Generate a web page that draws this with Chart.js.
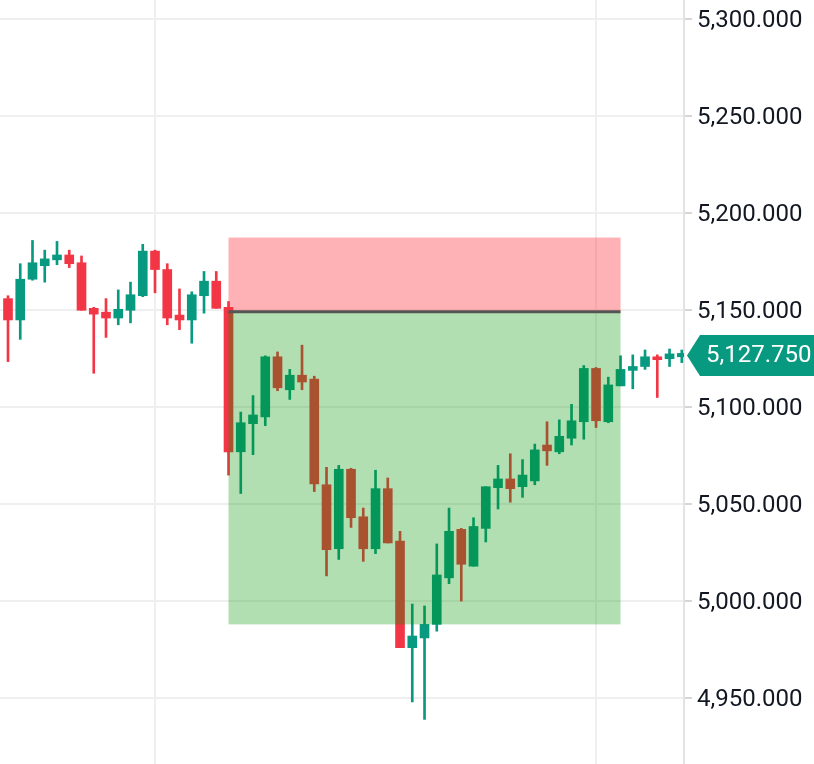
<!DOCTYPE html>
<html>
<head>
<meta charset="utf-8">
<script src="https://cdn.jsdelivr.net/npm/chart.js@4"></script>
<style>
  html, body { margin: 0; padding: 0; background: #ffffff; overflow: hidden; }
  canvas { display: block; }
</style>
</head>
<body>
<canvas id="chart" width="814" height="764"></canvas>
<script>
// OHLC, one entry per candle (left to right)
const opens = [5156, 5145, 5166, 5173, 5176, 5178.5, 5174.5, 5151, 5149, 5146, 5150, 5157.5, 5180.5, 5171, 5147.5, 5145, 5157.5, 5165,
  5151.5, 5077, 5091.5, 5095, 5126, 5109, 5116.5, 5114.5, 5060, 5027, 5068, 5043.5, 5027, 5058, 5031, 4976, 4981, 4988, 5012, 5037,
  5018, 5037.5, 5058.5, 5063, 5059, 5062, 5080.5, 5077, 5084, 5092.5, 5120, 5092.5, 5111, 5119, 5121, 5126, 5125, 5126];
const highs = [5157.5, 5174, 5186, 5181, 5185.5, 5181, 5178, 5151.5, 5156, 5160.5, 5164.5, 5184, 5181, 5174, 5161, 5159.5, 5170, 5170,
  5154.5, 5097.5, 5106, 5126.5, 5128.5, 5119.5, 5132, 5116, 5069, 5070, 5068.5, 5048, 5067.5, 5063.5, 5036, 4998.5, 4997.5, 5029.5, 5048, 5037.5,
  5043, 5059, 5070, 5076, 5073, 5081, 5092.5, 5093.5, 5101.5, 5121.5, 5120.5, 5115.5, 5126.5, 5127, 5129.5, 5127, 5130, 5129.5];
const lows = [5123.5, 5135, 5165.5, 5164.5, 5173.5, 5172, 5150, 5117.5, 5136, 5142.5, 5143.5, 5157, 5159, 5142.5, 5140, 5133, 5148.5, 5151,
  5065, 5055.5, 5075.5, 5090.5, 5108.5, 5104, 5109, 5056.5, 5013, 5021.5, 5038, 5020.5, 5024.5, 5030, 4976, 4948, 4939, 4984.5, 5009, 5000,
  5018, 5030.5, 5047.5, 5051, 5053.5, 5060, 5070, 5076, 5080.5, 5083.5, 5089.5, 5092, 5111, 5109.5, 5119.5, 5105, 5121, 5123];
const closes = [5145, 5166, 5174.5, 5176.5, 5178.5, 5174, 5150, 5148, 5146, 5150.5, 5158, 5180.5, 5171, 5146, 5145, 5158, 5165, 5151,
  5077, 5092, 5096, 5126, 5110, 5116.5, 5113, 5060.5, 5026.5, 5068, 5043, 5027, 5058, 5030, 4976, 4982, 4988, 5013.5, 5036, 5019,
  5038.5, 5059, 5063, 5058, 5065, 5078, 5077.5, 5085, 5093, 5120, 5093, 5111.5, 5119.5, 5121, 5126, 5124.5, 5127.5, 5127.75];

// price axis labels and the two time gridlines (candle index)
const yTicks = [4950, 5000, 5050, 5100, 5150, 5200, 5250, 5300];
const xGridIdx = [12, 48];

// long position tool: from candle 18 to 50
const zoneStart = 18;
const zoneEnd = 50;
const entryPrice = 5149.25;
const stopPrice = 5187.5;
const targetPrice = 4988;

const upColor = '#089981';
const downColor = '#F23645';

const fmt = v => Number(v).toLocaleString('en-US', { minimumFractionDigits: 3, maximumFractionDigits: 3 });
const candleColor = ctx => closes[ctx.dataIndex] >= opens[ctx.dataIndex] ? upColor : downColor;

const wicks = lows.map((l, i) => ({ x: i, y: [l, highs[i]] }));
const bodies = opens.map((o, i) => ({ x: i, y: [Math.min(o, closes[i]), Math.max(o, closes[i])] }));

// draws the stop / target boxes and entry line over the candles
const positionPlugin = {
  id: 'position',
  afterDatasetsDraw(chart) {
    const { ctx, scales: { x, y } } = chart;
    const x0 = x.getPixelForValue(zoneStart);
    const x1 = x.getPixelForValue(zoneEnd);
    const yStop = y.getPixelForValue(stopPrice);
    const yEntry = y.getPixelForValue(entryPrice);
    const yTarget = y.getPixelForValue(targetPrice);
    ctx.save();
    ctx.fillStyle = 'rgba(255, 45, 55, 0.37)';
    ctx.fillRect(x0, yStop, x1 - x0, yEntry - yStop);
    ctx.fillStyle = 'rgba(0, 150, 0, 0.3)';
    ctx.fillRect(x0, yEntry, x1 - x0, yTarget - yEntry);
    ctx.strokeStyle = '#555555';
    ctx.lineWidth = 3;
    ctx.beginPath();
    ctx.moveTo(x0, yEntry);
    ctx.lineTo(x1, yEntry);
    ctx.stroke();
    ctx.restore();
  }
};

// last price tag on the price axis
const lastPricePlugin = {
  id: 'lastPrice',
  afterDraw(chart) {
    const { ctx, scales: { y } } = chart;
    const last = closes[closes.length - 1];
    const yc = y.getPixelForValue(last) + 2;
    const left = y.left + 3, arrow = 13, h = 41;
    ctx.save();
    ctx.fillStyle = upColor;
    ctx.beginPath();
    ctx.moveTo(left, yc);
    ctx.lineTo(left + arrow, yc - h / 2);
    ctx.lineTo(chart.width, yc - h / 2);
    ctx.lineTo(chart.width, yc + h / 2);
    ctx.lineTo(left + arrow, yc + h / 2);
    ctx.closePath();
    ctx.fill();
    ctx.fillStyle = '#ffffff';
    ctx.font = '24px Roboto';
    ctx.textBaseline = 'middle';
    ctx.fillText(fmt(last), left + arrow + 6, yc + 1);
    ctx.restore();
  }
};

new Chart(document.getElementById('chart'), {
  type: 'bar',
  data: {
    datasets: [
      { data: wicks, backgroundColor: candleColor, barThickness: 2, grouped: false },
      { data: bodies, backgroundColor: candleColor, barThickness: 9, minBarLength: 1, grouped: false }
    ]
  },
  options: {
    responsive: false,
    animation: false,
    devicePixelRatio: 1,
    layout: { padding: 0 },
    plugins: { legend: { display: false }, tooltip: { enabled: false } },
    scales: {
      x: {
        type: 'linear',
        min: -0.653,
        max: 55.18,
        offset: false,
        afterBuildTicks: s => { s.ticks = xGridIdx.map(v => ({ value: v })); },
        afterFit: s => { s.height = 0; },
        grid: { color: '#efefef', lineWidth: 2, drawTicks: false, offset: false },
        border: { display: false },
        ticks: { display: false }
      },
      y: {
        position: 'right',
        min: 4916,
        max: 5310,
        afterBuildTicks: s => { s.ticks = yTicks.map(v => ({ value: v })); },
        afterFit: s => { s.width = 130; s.paddingTop = 0; s.paddingBottom = 0; },
        grid: { color: '#efefef', lineWidth: 2, tickLength: 8, tickColor: '#d6d6d6' },
        border: { color: '#e3e3e3', width: 2 },
        ticks: {
          color: '#131722',
          padding: 5,
          labelOffset: 2,
          font: { family: 'Roboto', size: 24 },
          callback: v => fmt(v)
        }
      }
    }
  },
  plugins: [positionPlugin, lastPricePlugin]
});
</script>
</body>
</html>
